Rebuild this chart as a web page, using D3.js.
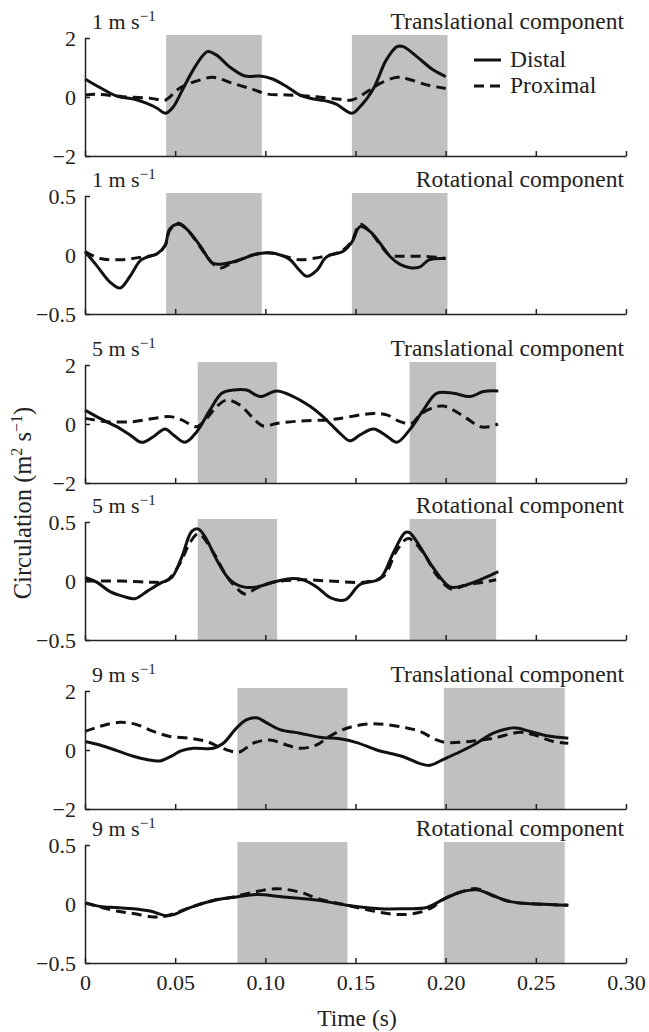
<!DOCTYPE html>
<html>
<head>
<meta charset="utf-8">
<script src="https://cdn.jsdelivr.net/npm/d3@7"></script>
<style>
  body { margin: 0; background: #fff; }
  text { font-family: "Liberation Serif", "Times New Roman", serif; fill: #222; }
</style>
</head>
<body>
<div id="chart"></div>
<script>
// x axis
var timeTicks = [0, 0.05, 0.10, 0.15, 0.20, 0.25, 0.30];
var timeTickLabels = ["0", "0.05", "0.10", "0.15", "0.20", "0.25", "0.30"];

// y axes
var transTicks = [-2, 0, 2];
var transTickLabels = ["\u22122", "0", "2"];
var rotTicks = [-0.5, 0, 0.5];
var rotTickLabels = ["\u22120.5", "0", "0.5"];

var speeds = [1, 1, 5, 5, 9, 9];
var components = ["Translational component", "Rotational component",
                  "Translational component", "Rotational component",
                  "Translational component", "Rotational component"];

// shaded windows (s)
var shade1 = [[0.045, 0.098], [0.148, 0.201]];
var shade5 = [[0.0625, 0.1065], [0.180, 0.228]];
var shade9 = [[0.0845, 0.1455], [0.199, 0.266]];

// series: [time (s), circulation]
var distal1T = [[0,0.61],[0.008,0.33],[0.018,0.02],[0.027,-0.07],[0.034,-0.21],[0.040,-0.38],[0.0447,-0.55],[0.049,-0.33],[0.054,0.24],[0.060,0.92],[0.0656,1.42],[0.068,1.54],[0.073,1.42],[0.080,1.03],[0.0887,0.71],[0.097,0.71],[0.104,0.61],[0.112,0.35],[0.119,0.07],[0.127,-0.07],[0.135,-0.15],[0.1396,-0.25],[0.148,-0.55],[0.1525,-0.33],[0.160,0.29],[0.167,1.25],[0.173,1.71],[0.1765,1.71],[0.184,1.37],[0.193,0.92],[0.200,0.69]];
var proximal1T = [[0,0.07],[0.008,0.09],[0.021,0.01],[0.036,-0.04],[0.0447,-0.1],[0.051,0.24],[0.056,0.41],[0.064,0.58],[0.071,0.67],[0.082,0.46],[0.093,0.26],[0.101,0.1],[0.112,0.07],[0.1285,0.01],[0.1414,-0.08],[0.148,-0.1],[0.158,0.24],[0.1636,0.46],[0.173,0.67],[0.178,0.63],[0.1895,0.41],[0.200,0.29]];

var distal1R = [[0,0.03],[0.0065,-0.09],[0.0139,-0.23],[0.0194,-0.28],[0.025,-0.18],[0.0305,-0.05],[0.034,-0.02],[0.040,0.01],[0.0444,0.08],[0.047,0.22],[0.0518,0.26],[0.0564,0.22],[0.0638,0.08],[0.071,-0.07],[0.0786,-0.07],[0.086,-0.04],[0.093,0.0],[0.1008,0.02],[0.106,0.01],[0.1137,-0.04],[0.119,-0.13],[0.123,-0.18],[0.1285,-0.13],[0.133,-0.03],[0.136,0.0],[0.143,0.03],[0.148,0.11],[0.1525,0.24],[0.158,0.2],[0.1636,0.1],[0.169,-0.01],[0.1747,-0.08],[0.181,-0.11],[0.1858,-0.1],[0.191,-0.04],[0.200,-0.03]];
var proximal1R = [[0,0.03],[0.0083,-0.03],[0.0194,-0.04],[0.0305,-0.02],[0.040,0.01],[0.0444,0.08],[0.047,0.21],[0.0518,0.27],[0.0564,0.22],[0.0638,0.07],[0.070,-0.06],[0.075,-0.11],[0.080,-0.08],[0.086,-0.04],[0.093,0.0],[0.1008,0.02],[0.106,0.01],[0.119,-0.04],[0.130,-0.02],[0.136,0.0],[0.143,0.04],[0.148,0.12],[0.1525,0.26],[0.158,0.2],[0.1636,0.09],[0.169,0.0],[0.1765,-0.01],[0.186,-0.01],[0.195,-0.02],[0.200,-0.03]];

var distal5T = [[0,0.47],[0.0083,0.19],[0.0176,-0.09],[0.025,-0.37],[0.0314,-0.62],[0.0379,-0.43],[0.0444,-0.17],[0.049,-0.37],[0.0555,-0.62],[0.062,-0.26],[0.0693,0.47],[0.0758,1.04],[0.0822,1.15],[0.0897,1.15],[0.097,0.93],[0.1063,1.12],[0.1155,0.93],[0.125,0.59],[0.131,0.3],[0.137,-0.05],[0.142,-0.35],[0.147,-0.57],[0.1525,-0.37],[0.16,-0.17],[0.1673,-0.41],[0.1729,-0.62],[0.18,-0.2],[0.1876,0.47],[0.195,1.04],[0.2043,1.04],[0.2135,0.93],[0.221,1.1],[0.2292,1.12]];
var proximal5T = [[0,0.19],[0.012,0.08],[0.0268,0.08],[0.0379,0.19],[0.0471,0.25],[0.0536,0.14],[0.062,-0.09],[0.0675,0.19],[0.073,0.59],[0.0786,0.81],[0.086,0.64],[0.0933,0.19],[0.0989,-0.07],[0.1063,0.02],[0.1192,0.1],[0.135,0.14],[0.1414,0.19],[0.16,0.36],[0.1673,0.31],[0.1747,0.08],[0.1812,0.02],[0.1858,0.31],[0.1932,0.56],[0.1987,0.61],[0.2043,0.47],[0.2117,0.19],[0.219,-0.09],[0.2246,-0.09],[0.229,0.0]];

var distal5R = [[0,0.03],[0.0065,-0.01],[0.0139,-0.09],[0.0212,-0.13],[0.0277,-0.15],[0.0342,-0.09],[0.0416,-0.02],[0.0481,0.03],[0.0536,0.2],[0.0592,0.42],[0.0629,0.44],[0.0675,0.35],[0.073,0.18],[0.0804,0.01],[0.0878,-0.05],[0.0952,-0.05],[0.1044,-0.01],[0.1137,0.02],[0.121,0.01],[0.1285,-0.05],[0.136,-0.14],[0.1442,-0.16],[0.1525,-0.03],[0.1636,0.02],[0.171,0.24],[0.1775,0.41],[0.18,0.41],[0.1858,0.29],[0.1932,0.11],[0.2024,-0.05],[0.2098,-0.04],[0.219,0.01],[0.2292,0.08]];
var proximal5R = [[0,0.0],[0.02,0.0],[0.036,-0.01],[0.045,0.0],[0.0527,0.15],[0.058,0.32],[0.0629,0.4],[0.0712,0.24],[0.0786,0.04],[0.0841,-0.06],[0.0887,-0.11],[0.0952,-0.06],[0.1044,-0.01],[0.1192,0.01],[0.1359,0.0],[0.1544,-0.01],[0.1655,0.04],[0.1729,0.26],[0.1793,0.36],[0.1876,0.24],[0.195,0.05],[0.2034,-0.07],[0.2098,-0.04],[0.221,-0.01],[0.228,0.01]];

var distal9T = [[0,0.29],[0.0083,0.17],[0.0176,-0.02],[0.0268,-0.21],[0.0342,-0.32],[0.0416,-0.37],[0.0471,-0.23],[0.0536,-0.02],[0.06,0.06],[0.0712,0.06],[0.0767,0.23],[0.0841,0.75],[0.0897,1.03],[0.0952,1.09],[0.1008,0.92],[0.1081,0.69],[0.1192,0.57],[0.1303,0.43],[0.1414,0.38],[0.1507,0.25],[0.1618,0.0],[0.1765,-0.23],[0.1858,-0.46],[0.1913,-0.52],[0.1987,-0.32],[0.208,-0.06],[0.2172,0.23],[0.2264,0.57],[0.2375,0.75],[0.2468,0.63],[0.256,0.48],[0.268,0.4]];
var proximal9T = [[0,0.63],[0.0083,0.8],[0.0194,0.94],[0.0287,0.86],[0.0379,0.63],[0.0471,0.46],[0.0582,0.4],[0.0675,0.29],[0.0749,0.09],[0.0823,-0.06],[0.086,-0.06],[0.0933,0.23],[0.1026,0.34],[0.1118,0.17],[0.1192,0.06],[0.1285,0.17],[0.134,0.4],[0.1414,0.65],[0.1488,0.8],[0.158,0.89],[0.1673,0.86],[0.1784,0.75],[0.1858,0.63],[0.195,0.34],[0.2006,0.25],[0.2135,0.29],[0.2264,0.4],[0.2412,0.6],[0.2486,0.52],[0.2597,0.29],[0.268,0.23]];

var distal9R = [[0,0.01],[0.0083,-0.02],[0.0176,-0.03],[0.0268,-0.04],[0.036,-0.06],[0.0453,-0.1],[0.049,-0.09],[0.0582,-0.03],[0.0712,0.03],[0.0841,0.06],[0.0952,0.08],[0.11,0.06],[0.1248,0.04],[0.1303,0.03],[0.1451,-0.01],[0.1636,-0.04],[0.1765,-0.04],[0.1895,-0.03],[0.1987,0.04],[0.208,0.1],[0.2172,0.12],[0.2264,0.07],[0.2357,0.02],[0.2505,0.0],[0.268,-0.01]];
var proximal9R = [[0,0.01],[0.0176,-0.06],[0.0268,-0.08],[0.0379,-0.11],[0.0453,-0.1],[0.0582,-0.03],[0.0712,0.03],[0.0823,0.06],[0.0933,0.1],[0.1063,0.13],[0.1192,0.1],[0.1303,0.04],[0.1451,-0.01],[0.1636,-0.07],[0.1747,-0.09],[0.1858,-0.07],[0.1935,-0.02],[0.1987,0.04],[0.208,0.1],[0.2172,0.13],[0.2264,0.07],[0.2357,0.02],[0.2505,0.0],[0.268,-0.01]];

var distalSeries = [distal1T, distal1R, distal5T, distal5R, distal9T, distal9R];
var proximalSeries = [proximal1T, proximal1R, proximal5T, proximal5R, proximal9T, proximal9R];
var shades = [shade1, shade1, shade5, shade5, shade9, shade9];

// layout
var panelTops = [38, 196, 365, 522, 691, 845];
var panelH = 118;

var svg = d3.select("#chart")
    .append("svg")
        .attr("width", 649)
        .attr("height", 1032);

var xScale = d3.scaleLinear().domain([0, 0.30]).range([85, 626]);

panelTops.forEach(function(top, i) {
    var isTrans = i % 2 === 0;
    var ticks = isTrans ? transTicks : rotTicks;
    var tickLabels = isTrans ? transTickLabels : rotTickLabels;
    var yScale = d3.scaleLinear()
        .domain([ticks[0], ticks[ticks.length - 1]])
        .range([top + panelH, top]);

    var g = svg.append("g");

    // shaded stance windows
    g.selectAll("rect.shade")
        .data(shades[i])
        .enter()
        .append("rect")
            .attr("class", "shade")
            .attr("x", function(d) { return xScale(d[0]); })
            .attr("width", function(d) { return xScale(d[1]) - xScale(d[0]); })
            .attr("y", top - 3)
            .attr("height", panelH + 3)
            .style("fill", "#c0c0c0");

    var lineGen = d3.line()
        .curve(d3.curveCatmullRom.alpha(0.5))
        .x(function(d) { return xScale(d[0]); })
        .y(function(d) { return yScale(d[1]); });

    g.append("path")
        .attr("d", lineGen(distalSeries[i]))
        .style("fill", "none")
        .style("stroke", "#111")
        .style("stroke-width", "3px")
        .style("stroke-linejoin", "round");

    g.append("path")
        .attr("d", lineGen(proximalSeries[i]))
        .style("fill", "none")
        .style("stroke", "#111")
        .style("stroke-width", "3px")
        .style("stroke-dasharray", "10, 6");

    // axes
    var yaxis = d3.axisLeft(yScale)
        .tickValues(ticks)
        .tickSizeInner(-5)
        .tickSizeOuter(0)
        .tickPadding(9)
        .tickFormat(function(d, k) { return tickLabels[k]; });

    var xaxis = d3.axisBottom(xScale)
        .tickValues(timeTicks)
        .tickSizeInner(-5)
        .tickSizeOuter(0)
        .tickPadding(11)
        .tickFormat(function(d, k) { return i === 5 ? timeTickLabels[k] : ""; });

    var ya = g.append("g")
        .attr("transform", "translate(85,0)")
        .call(yaxis);

    var xa = g.append("g")
        .attr("transform", "translate(0," + (top + panelH) + ")")
        .call(xaxis);

    [ya, xa].forEach(function(a) {
        a.selectAll("path, line").style("stroke", "#222").style("stroke-width", "1.5px");
        a.selectAll("text")
            .style("font-family", "'Liberation Serif', 'Times New Roman', serif")
            .style("font-size", "22px")
            .style("fill", "#222");
    });

    // speed label
    var sp = g.append("text")
        .attr("x", 92)
        .attr("y", top - 9)
        .attr("font-size", "22px")
        .text(speeds[i] + " m s");
    sp.append("tspan")
        .attr("font-size", "15px")
        .attr("dy", -8)
        .text("\u22121");

    // component label
    g.append("text")
        .attr("x", 624)
        .attr("y", top - 9)
        .attr("text-anchor", "end")
        .attr("font-size", "23.5px")
        .text(components[i]);
});

// legend
var legendItems = [["Distal", null], ["Proximal", "10, 6"]];
var legend = svg.selectAll("g.legend")
    .data(legendItems)
    .enter()
    .append("g")
        .attr("class", "legend")
        .attr("transform", function(d, k) { return "translate(474," + (60 + k * 26) + ")"; });

legend.append("line")
    .attr("x1", 0)
    .attr("x2", 27)
    .style("stroke", "#111")
    .style("stroke-width", "3px")
    .style("stroke-dasharray", function(d) { return d[1]; });

legend.append("text")
    .attr("x", 36)
    .attr("y", 7)
    .attr("font-size", "23.5px")
    .text(function(d) { return d[0]; });

// axis titles
svg.append("text")
    .attr("x", 357)
    .attr("y", 1026)
    .attr("text-anchor", "middle")
    .attr("font-size", "23.5px")
    .text("Time (s)");

var ylab = svg.append("text")
    .attr("transform", "translate(31,503) rotate(-90)")
    .attr("text-anchor", "middle")
    .attr("font-size", "24.5px");
ylab.append("tspan").text("Circulation (m");
ylab.append("tspan").attr("font-size", "16px").attr("dy", -9).text("2");
ylab.append("tspan").attr("dy", 9).text(" s");
ylab.append("tspan").attr("font-size", "16px").attr("dy", -9).text("\u22121");
ylab.append("tspan").attr("dy", 9).text(")");
</script>
</body>
</html>
